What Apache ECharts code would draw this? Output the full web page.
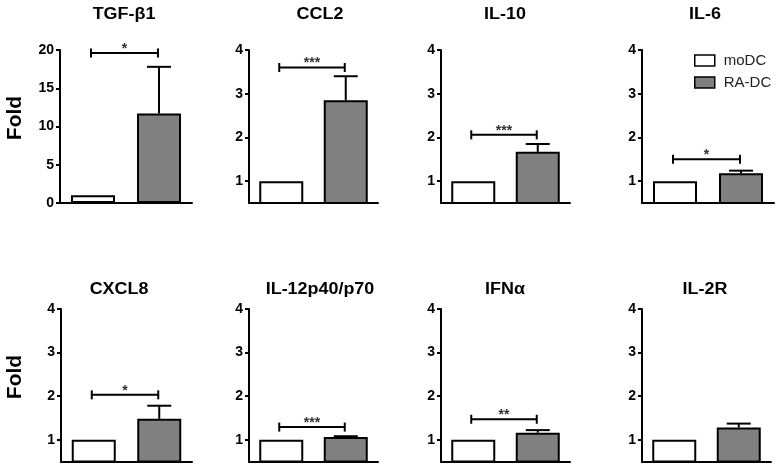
<!DOCTYPE html>
<html>
<head>
<meta charset="utf-8">
<script src="https://cdn.jsdelivr.net/npm/echarts@6/dist/echarts.min.js"></script>
<style>html,body{margin:0;padding:0;background:#fff}#c{width:782px;height:470px}</style>
</head>
<body>
<div id="c"></div>
<script>
const titles = ['TGF-β1', 'CCL2', 'IL-10', 'IL-6', 'CXCL8', 'IL-12p40/p70', 'IFNα', 'IL-2R'];
const groups = ['moDC', 'RA-DC'];
const moDC = [1, 1, 1, 1, 1, 1, 1, 1];
const raDC = [11.7, 2.85, 1.67, 1.18, 1.48, 1.06, 1.16, 1.28];
const raDCsd = [6.1, 0.55, 0.18, 0.06, 0.30, 0.02, 0.06, 0.09];
const sigY = [19.6, 3.6, 2.06, 1.5, 2.03, 1.29, 1.47, null];
const sigLabel = ['*', '***', '***', '*', '*', '***', '**', ''];
const yMin = [0, 0.5, 0.5, 0.5, 0.5, 0.5, 0.5, 0.5];
const yMax = [20, 4, 4, 4, 4, 4, 4, 4];
const yTicks = [[0, 5, 10, 15, 20], [1, 2, 3, 4], [1, 2, 3, 4], [1, 2, 3, 4], [1, 2, 3, 4], [1, 2, 3, 4], [1, 2, 3, 4], [1, 2, 3, 4]];
const yName = 'Fold';

const FONT = "'Liberation Sans', Arial, sans-serif";
const layout = [
  {left: 60, top: 50, width: 132, height: 153, tx: 124, ty: 15},
  {left: 249, top: 50, width: 129, height: 153, tx: 320, ty: 15},
  {left: 441, top: 50, width: 129, height: 153, tx: 505, ty: 15},
  {left: 642, top: 50, width: 132, height: 153, tx: 705, ty: 15},
  {left: 61, top: 309, width: 131, height: 152.5, tx: 119, ty: 290},
  {left: 249, top: 309, width: 129, height: 152.5, tx: 320, ty: 290},
  {left: 441, top: 309, width: 129, height: 152.5, tx: 505, ty: 290},
  {left: 642, top: 309, width: 129, height: 152.5, tx: 705, ty: 290}
];

const grid = [], xAxis = [], yAxis = [], series = [], graphic = [];
titles.forEach((t, i) => {
  const L = layout[i];
  grid.push({left: L.left, top: L.top, width: L.width, height: L.height, containLabel: false});
  xAxis.push({
    type: 'category', gridIndex: i, data: groups,
    axisLine: {show: true, onZero: false, lineStyle: {color: '#000', width: 2}},
    axisTick: {show: false}, axisLabel: {show: false}, splitLine: {show: false}
  });
  yAxis.push({
    type: 'value', gridIndex: i, min: yMin[i], max: yMax[i],
    axisLine: {show: true, lineStyle: {color: '#000', width: 2}},
    axisTick: {show: true, length: 4, lineStyle: {color: '#000', width: 2}, customValues: yTicks[i]},
    axisLabel: {show: true, customValues: yTicks[i], color: '#000', fontWeight: 'bold', fontSize: 14, fontFamily: FONT, margin: 6},
    splitLine: {show: false}
  });
  series.push({
    name: 'moDC', type: 'bar', xAxisIndex: i, yAxisIndex: i, barWidth: 44, barGap: '-100%',
    data: [moDC[i], '-'],
    itemStyle: {color: '#ffffff', borderColor: '#000', borderWidth: 2},
    silent: true, animation: false
  });
  series.push({
    name: 'RA-DC', type: 'bar', xAxisIndex: i, yAxisIndex: i, barWidth: 44, barGap: '-100%',
    data: ['-', raDC[i]],
    itemStyle: {color: '#808080', borderColor: '#000', borderWidth: 2},
    silent: true, animation: false
  });
  series.push({
    type: 'custom', xAxisIndex: i, yAxisIndex: i, silent: true, animation: false, z: 5,
    data: [[1, raDC[i], raDC[i] + raDCsd[i]]],
    renderItem: function (params, api) {
      const p0 = api.coord([api.value(0), api.value(1)]);
      const p1 = api.coord([api.value(0), api.value(2)]);
      return {type: 'group', children: [
        {type: 'line', shape: {x1: p0[0], y1: p0[1], x2: p1[0], y2: p1[1]}, style: {stroke: '#000', lineWidth: 2}},
        {type: 'line', shape: {x1: p1[0] - 12, y1: p1[1], x2: p1[0] + 12, y2: p1[1]}, style: {stroke: '#000', lineWidth: 2}}
      ]};
    }
  });
  if (sigY[i] !== null) {
    const lab = sigLabel[i];
    series.push({
      type: 'custom', xAxisIndex: i, yAxisIndex: i, silent: true, animation: false, z: 5,
      data: [[0, 1, sigY[i]]],
      renderItem: function (params, api) {
        const a = api.coord([api.value(0), api.value(2)]);
        const b = api.coord([api.value(1), api.value(2)]);
        const x1 = a[0] - 2, x2 = b[0] - 1, y = a[1];
        return {type: 'group', children: [
          {type: 'line', shape: {x1: x1, y1: y, x2: x2, y2: y}, style: {stroke: '#000', lineWidth: 2}},
          {type: 'line', shape: {x1: x1, y1: y - 4.5, x2: x1, y2: y + 4.5}, style: {stroke: '#000', lineWidth: 2}},
          {type: 'line', shape: {x1: x2, y1: y - 4.5, x2: x2, y2: y + 4.5}, style: {stroke: '#000', lineWidth: 2}},
          {type: 'text', style: {x: (x1 + x2) / 2, y: y + 3, text: lab, textAlign: 'center', textVerticalAlign: 'bottom', fontSize: 14, fontWeight: 'bold', fontFamily: FONT, fill: '#333'}}
        ]};
      }
    });
  }
  graphic.push({
    type: 'text', x: L.tx, y: L.ty, scaleX: 1.12, silent: true,
    style: {text: t, textAlign: 'center', textVerticalAlign: 'middle', fontSize: 16, fontWeight: 'bold', fontFamily: FONT, fill: '#000'}
  });
});
graphic.push({type: 'text', x: 15, y: 118, rotation: Math.PI / 2, silent: true,
  style: {text: yName, textAlign: 'center', textVerticalAlign: 'middle', fontSize: 21, fontWeight: 'bold', fontFamily: FONT, fill: '#000'}});
graphic.push({type: 'text', x: 15, y: 377, rotation: Math.PI / 2, silent: true,
  style: {text: yName, textAlign: 'center', textVerticalAlign: 'middle', fontSize: 21, fontWeight: 'bold', fontFamily: FONT, fill: '#000'}});

const chart = echarts.init(document.getElementById('c'), null, {renderer: 'canvas'});
chart.setOption({
  animation: false,
  backgroundColor: '#fff',
  grid, xAxis, yAxis, series, graphic,
  legend: {
    data: groups, orient: 'vertical', left: 689, top: 48, itemWidth: 20, itemHeight: 11, itemGap: 7,
    icon: 'rect', selectedMode: false,
    itemStyle: {borderColor: '#000', borderWidth: 1.5},
    textStyle: {fontSize: 15, fontFamily: FONT, color: '#222', padding: [0, 0, 0, 4]}
  }
});
</script>
</body>
</html>
